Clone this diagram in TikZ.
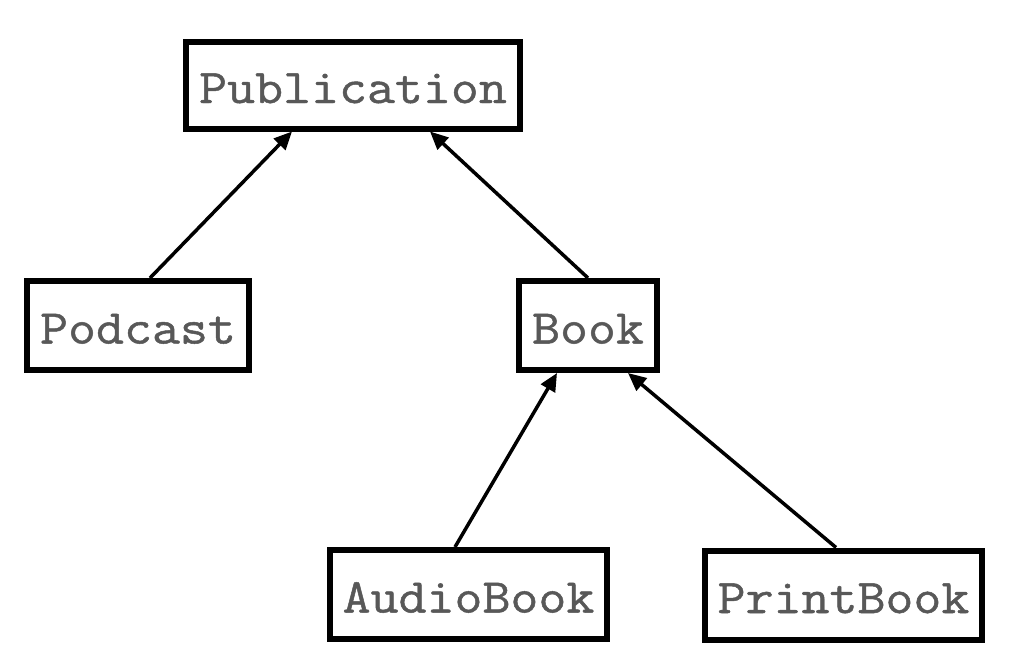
\documentclass[tikz,border=0pt]{standalone}
\usepackage{fontspec}
\usetikzlibrary{arrows.meta,calc}
\newfontfamily\boxfont{Latin Modern Mono}[FakeStretch=1.12,FakeBold=1]
\definecolor{textgrey}{RGB}{88,88,88}
\tikzset{
  classbox/.style={draw=black,line width=6pt,fill=white,inner sep=0pt,
    minimum height=89pt,text=textgrey,text height=36pt,text depth=0pt,
    font=\boxfont\fontsize{48.5}{58}\selectfont},
  inherit/.style={line width=3.5pt,-{Triangle[length=18pt,width=16pt]}}
}
\begin{document}
\begin{tikzpicture}[x=1pt,y=-1pt]
\useasboundingbox (0,0) rectangle (1016,670);
\node[classbox,minimum width=334pt,minimum height=87pt] (pub) at (353,85) {Publication};
\node[classbox,minimum width=222pt] (pod) at (138,325.5) {Podcast};
\node[classbox,minimum width=138pt] (book) at (588,325.5) {Book};
\node[classbox,minimum width=277pt] (audio) at (468.5,594.5) {AudioBook};
\node[classbox,minimum width=277pt] (print) at (843.5,595) {PrintBook};
\draw[inherit] ($(pod.north)+(12,0)$) -- ($(pub.south)+(-61,0)$);
\draw[inherit] (book.north) -- ($(pub.south)+(77,0)$);
\draw[inherit] ($(audio.north)+(-13.5,0)$) -- ($(book.south)+(-31,0)$);
\draw[inherit] ($(print.north)+(-7.5,0)$) -- ($(book.south)+(40,0)$);
\end{tikzpicture}
\end{document}
